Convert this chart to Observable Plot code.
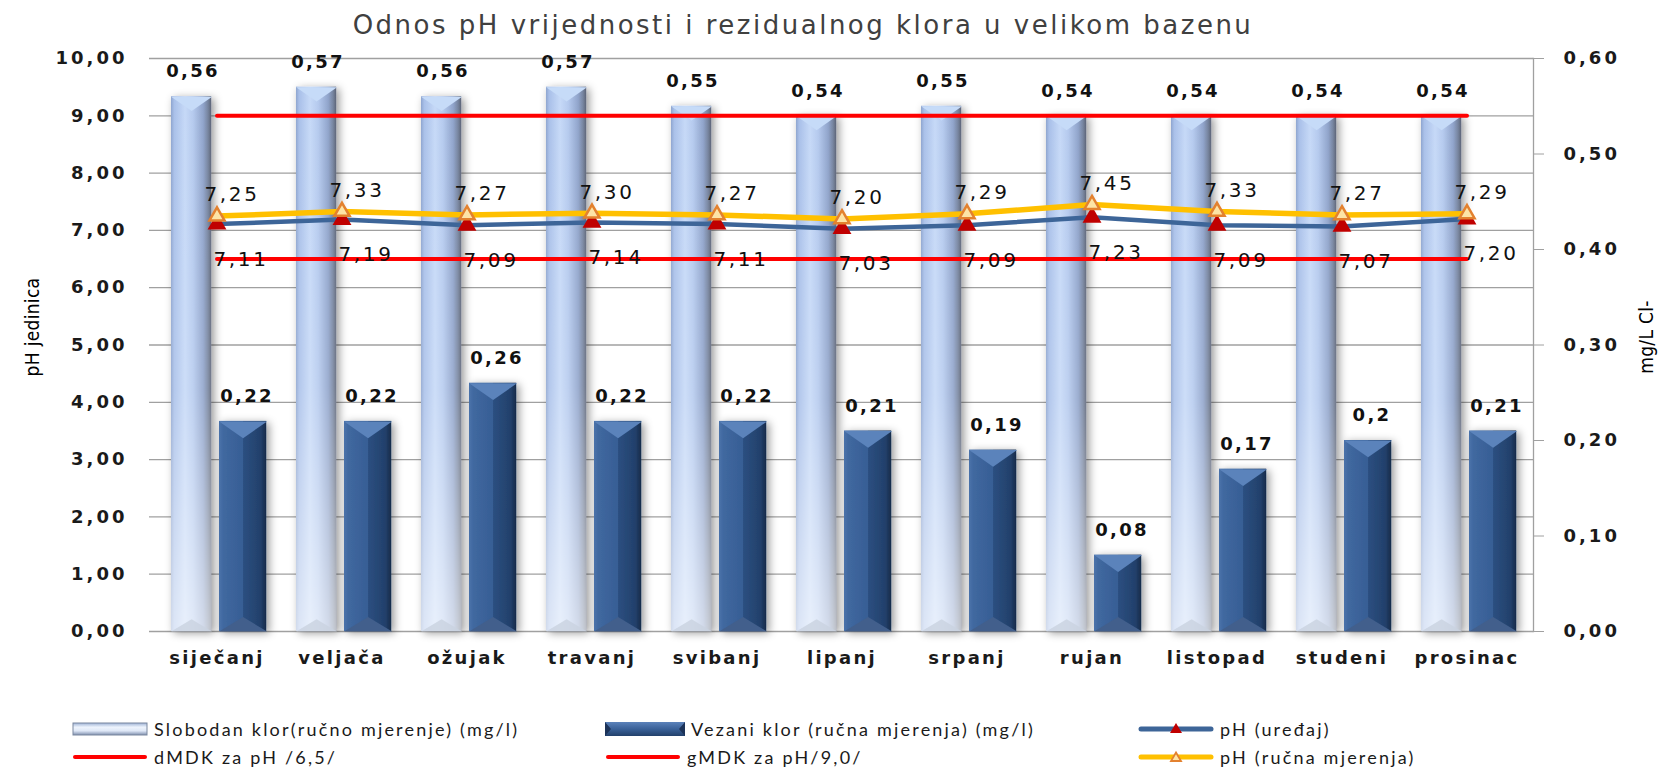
<!DOCTYPE html>
<html>
<head>
<meta charset="utf-8">
<script src="https://cdn.jsdelivr.net/npm/d3@7"></script>
<script src="https://cdn.jsdelivr.net/npm/@observablehq/plot@0.6"></script>
<style>
  html, body { margin: 0; padding: 0; background: #fff; }
  body { width: 1664px; height: 767px; position: relative; overflow: hidden; }
  #title { position: absolute; left: 0; top: 2px; width: 1606px; height: 46px; line-height: 46px;
           text-align: center; font-family: "DejaVu Sans", sans-serif; font-size: 26px;
           letter-spacing: 2.5px; color: #404040; white-space: nowrap; }
  #chart { position: absolute; left: 0; top: 40px; }
  #chart svg text { letter-spacing: 2.3px; }
  .lg { position: absolute; height: 24px; display: flex; align-items: center; white-space: nowrap;
        font-family: "Lato", sans-serif; font-size: 18px; letter-spacing: 2.2px; color: #1a1a1a; }
  .lg svg { margin-right: 6px; flex: none; }
</style>
</head>
<body>
<div id="title">Odnos pH vrijednosti i rezidualnog klora u velikom bazenu</div>
<div id="chart"></div>
<div id="legend"></div>
<script>
// ---------- data ----------
const months = ["siječanj", "veljača", "ožujak", "travanj", "svibanj", "lipanj", "srpanj", "rujan", "listopad", "studeni", "prosinac"];
const slobodanKlor = [0.56, 0.57, 0.56, 0.57, 0.55, 0.54, 0.55, 0.54, 0.54, 0.54, 0.54];
const vezaniKlor   = [0.22, 0.22, 0.26, 0.22, 0.22, 0.21, 0.19, 0.08, 0.17, 0.2, 0.21];
const phUredaj     = [7.11, 7.19, 7.09, 7.14, 7.11, 7.03, 7.09, 7.23, 7.09, 7.07, 7.20];
const phRucna      = [7.25, 7.33, 7.27, 7.30, 7.27, 7.20, 7.29, 7.45, 7.33, 7.27, 7.29];
const dMDK         = [6.5, 6.5, 6.5, 6.5, 6.5, 6.5, 6.5, 6.5, 6.5, 6.5, 6.5];
const gMDK         = [9.0, 9.0, 9.0, 9.0, 9.0, 9.0, 9.0, 9.0, 9.0, 9.0, 9.0];
const phTicks      = [0, 1, 2, 3, 4, 5, 6, 7, 8, 9, 10];
const klorTicks    = [0, 0.1, 0.2, 0.3, 0.4, 0.5, 0.6];
const PH_MAX = 10, KLOR_MAX = 0.6;
const titleLeft = "pH jedinica";
const titleRight = "mg/L Cl-";
const legendLabels = {
  slobodan: "Slobodan klor(ručno mjerenje) (mg/l)",
  vezani: "Vezani klor (ručna mjerenja)  (mg/l)",
  uredaj: "pH (uređaj)",
  dmdk: "dMDK za pH  /6,5/",
  gmdk: "gMDK za pH/9,0/",
  rucna: "pH (ručna mjerenja)"
};

// ---------- helpers ----------
const rows = months.map((m, i) => ({
  month: m, slobodan: slobodanKlor[i], vezani: vezaniKlor[i],
  uredaj: phUredaj[i], rucna: phRucna[i], dmdk: dMDK[i], gmdk: gMDK[i]
}));
const toPh = v => v * PH_MAX / KLOR_MAX;          // right axis (mg/l) -> left axis (pH)
const comma = v => String(v).replace(".", ",");
const fix2 = v => v.toFixed(2).replace(".", ",");

const topBevel = { draw(ctx, size) { const w = Math.sqrt(size / Math.PI);
  ctx.moveTo(-w, 0); ctx.lineTo(w, 0); ctx.lineTo(0, w * 0.7); ctx.closePath(); } };
const bottomBevel = { draw(ctx, size) { const w = Math.sqrt(size / Math.PI);
  ctx.moveTo(-w, 0); ctx.lineTo(w, 0); ctx.lineTo(0, -w * 0.6); ctx.closePath(); } };

const LIGHT = {insetLeft: 17, insetRight: 67.8, dx: -25.4, r: 20.5};
const DARK  = {insetLeft: 65, insetRight: 12.8, dx: 26.1, r: 24};
const narrow = "'DejaVu Sans Condensed', 'Liberation Sans Narrow', 'Liberation Sans', sans-serif";

const chart = Plot.plot({
  width: 1664, height: 660,
  marginTop: 18, marginBottom: 69, marginLeft: 149, marginRight: 131,
  style: {fontFamily: "'DejaVu Sans', sans-serif", background: "transparent", color: "#1a1a1a", overflow: "visible"},
  x: {type: "band", domain: months, padding: 0},
  y: {domain: [0, PH_MAX]},
  marks: [
    Plot.gridY(phTicks, {stroke: "#a0a0a0", strokeOpacity: 1, strokeWidth: 1.3}),
    Plot.frame({anchor: "right", stroke: "#a0a0a0", strokeWidth: 1.3}),
    // bars
    Plot.barY(rows, {x: "month", y: d => toPh(d.slobodan), fill: "url(#gLight)", insetLeft: LIGHT.insetLeft, insetRight: LIGHT.insetRight}),
    Plot.barY(rows, {x: "month", y: d => toPh(d.slobodan), fill: "url(#gLightV)", insetLeft: LIGHT.insetLeft, insetRight: LIGHT.insetRight}),
    Plot.barY(rows, {x: "month", y: d => toPh(d.vezani), fill: "url(#gDark)", insetLeft: DARK.insetLeft, insetRight: DARK.insetRight}),
    // bevels
    Plot.dot(rows, {x: "month", y: d => toPh(d.slobodan), symbol: topBevel, r: LIGHT.r, dx: LIGHT.dx, fill: "#c6dbf8", stroke: "none"}),
    Plot.dot(rows, {x: "month", y: 0, symbol: bottomBevel, r: LIGHT.r, dx: LIGHT.dx, fill: "#c9d2e0", fillOpacity: 0.8, stroke: "none"}),
    Plot.dot(rows, {x: "month", y: d => toPh(d.vezani), symbol: topBevel, r: DARK.r, dx: DARK.dx, fill: "#5b83bb", stroke: "none"}),
    Plot.dot(rows, {x: "month", y: 0, symbol: bottomBevel, r: DARK.r, dx: DARK.dx, fill: "#425f8c", stroke: "none"}),
    // axes
    Plot.axisY(phTicks, {anchor: "left", tickSize: 0, tickPadding: 22, tickFormat: fix2, fontSize: 18, fontWeight: "bold", label: null}),
    Plot.axisY(klorTicks.map(toPh), {anchor: "right", tickSize: 10, tickPadding: 20, stroke: "#a0a0a0", tickFormat: d => fix2(d * KLOR_MAX / PH_MAX), fontSize: 18, fontWeight: "bold", label: null}),
    Plot.axisX({tickSize: 0, tickPadding: 20, fontSize: 18, fontWeight: "bold", label: null}),
    // limit lines
    Plot.line(rows, {x: "month", y: "gmdk", stroke: "#ff0000", strokeWidth: 4}),
    Plot.line(rows, {x: "month", y: "dmdk", stroke: "#ff0000", strokeWidth: 4}),
    // pH lines
    Plot.line(rows, {x: "month", y: "uredaj", stroke: "#3d6598", strokeWidth: 4.5}),
    Plot.dot(rows, {x: "month", y: "uredaj", symbol: "triangle", r: 7, fill: "#c00000", stroke: "none"}),
    Plot.line(rows, {x: "month", y: "rucna", stroke: "#ffc000", strokeWidth: 5.5}),
    Plot.dot(rows, {x: "month", y: "rucna", symbol: "triangle", r: 5.6, fill: "#fde4a6", stroke: "#e3812f", strokeWidth: 2.5}),
    // value labels
    Plot.text(rows, {x: "month", y: "rucna", text: d => fix2(d.rucna), dx: 15, dy: -21, fontSize: 20, fill: "#111"}),
    Plot.text(rows, {x: "month", y: "uredaj", text: d => fix2(d.uredaj), dx: 24, dy: 35, fontSize: 20, fill: "#111"}),
    Plot.text(rows, {x: "month", y: d => toPh(d.slobodan), text: d => comma(d.slobodan), dx: -24, dy: -25, fontSize: 18, fontWeight: "bold", fill: "#111"}),
    Plot.text(rows, {x: "month", y: d => toPh(d.vezani), text: d => comma(d.vezani), dx: 30, dy: -25, fontSize: 18, fontWeight: "bold", fill: "#111"}),
    // axis titles
    Plot.text([titleLeft], {text: d => d, frameAnchor: "left", textAnchor: "middle", dx: -117, dy: -18, rotate: -90, fontSize: 19, fontFamily: narrow, fill: "#000"}),
    Plot.text([titleRight], {text: d => d, frameAnchor: "right", textAnchor: "middle", dx: 113, dy: -8, rotate: -90, fontSize: 19, fontFamily: narrow, fill: "#000"})
  ]
});

// gradients + shadow
const defs = d3.select(chart).insert("defs", ":first-child");
function grad(id, stops, vertical) {
  const g = defs.append("linearGradient").attr("id", id)
    .attr("x1", 0).attr("y1", 0).attr("x2", vertical ? 0 : 1).attr("y2", vertical ? 1 : 0);
  stops.forEach(([o, c, op = 1]) => g.append("stop").attr("offset", o).attr("stop-color", c).attr("stop-opacity", op));
}
grad("gLight", [[0, "#8ea5cf"], [0.08, "#a9c0e9"], [0.35, "#c6d9f7"], [0.55, "#b5caee"], [0.8, "#90a4cb"], [0.92, "#76849f"], [1, "#5c6476"]]);
grad("gLightV", [[0, "#ffffff", 0], [0.55, "#ffffff", 0.12], [1, "#ffffff", 0.6]], true);
grad("gDark", [[0, "#4b72aa"], [0.1, "#40689f"], [0.5, "#375e95"], [0.52, "#2c4f80"], [0.88, "#22406b"], [1, "#172a49"]]);
const f = defs.append("filter").attr("id", "shadow").attr("x", "-40%").attr("y", "-5%").attr("width", "180%").attr("height", "110%");
f.append("feDropShadow").attr("dx", 3).attr("dy", 2).attr("stdDeviation", 4.5).attr("flood-color", "#000").attr("flood-opacity", 0.4);
const barGroups = d3.select(chart).selectAll("g[aria-label='bar']").nodes();
d3.select(barGroups[0]).attr("filter", "url(#shadow)");
d3.select(barGroups[2]).attr("filter", "url(#shadow)");
d3.select(chart).selectAll("g[aria-label='y-axis tick label'] text").style("letter-spacing", "3px");
const textGroups = d3.select(chart).selectAll("g[aria-label='text']").nodes();
textGroups.slice(-2).forEach(g => d3.select(g).selectAll("text").style("letter-spacing", "0.3px"));
textGroups.slice(0, 2).forEach(g => d3.select(g).selectAll("text").style("letter-spacing", "2.6px"));
document.getElementById("chart").appendChild(chart);

// ---------- legend (HTML) ----------
const legend = document.getElementById("legend");
function swatch(kind) {
  const w = kind === "vezani" ? 80 : 76, h = 18;
  let s = `<svg width="${w}" height="${h}" viewBox="0 0 ${w} ${h}">`;
  if (kind === "slobodan") {
    s += `<defs><linearGradient id="lgL" x1="0" y1="0" x2="0" y2="1"><stop offset="0" stop-color="#9fb3d6"/><stop offset="0.35" stop-color="#eef4fd"/><stop offset="0.65" stop-color="#dfe8f7"/><stop offset="1" stop-color="#7f8fae"/></linearGradient></defs>`;
    s += `<rect x="1" y="3" width="${w - 2}" height="12" fill="url(#lgL)" stroke="#7a889f" stroke-width="1"/>`;
  } else if (kind === "vezani") {
    s += `<defs><linearGradient id="lgD" x1="0" y1="0" x2="0" y2="1"><stop offset="0" stop-color="#5b82ba"/><stop offset="0.5" stop-color="#3a6198"/><stop offset="1" stop-color="#22406b"/></linearGradient></defs>`;
    s += `<rect x="0" y="2" width="${w}" height="14" fill="url(#lgD)"/><path d="M0,2 L6,9 L0,16Z M${w},2 L${w - 6},9 L${w},16Z" fill="#1c3358"/>`;
  } else if (kind === "uredaj") {
    s += `<line x1="3" x2="${w - 3}" y1="9" y2="9" stroke="#3d6598" stroke-width="5" stroke-linecap="round"/>`;
    s += `<path d="M${w / 2},3 L${w / 2 + 6},13 L${w / 2 - 6},13Z" fill="#c00000"/>`;
  } else if (kind === "rucna") {
    s += `<line x1="3" x2="${w - 3}" y1="9" y2="9" stroke="#ffc000" stroke-width="5" stroke-linecap="round"/>`;
    s += `<path d="M${w / 2},4.5 L${w / 2 + 5},13 L${w / 2 - 5},13Z" fill="#fde4a6" stroke="#e3812f" stroke-width="1.8"/>`;
  } else {
    s += `<line x1="3" x2="${w - 3}" y1="9" y2="9" stroke="#ff0000" stroke-width="4" stroke-linecap="round"/>`;
  }
  return s + "</svg>";
}
const items = [
  ["slobodan", 72, 717], ["vezani", 605, 717], ["uredaj", 1138, 717],
  ["dmdk", 72, 745], ["gmdk", 605, 745], ["rucna", 1138, 745]
];
items.forEach(([k, x, y]) => {
  const d = document.createElement("div");
  d.className = "lg";
  d.style.left = x + "px"; d.style.top = y + "px";
  d.innerHTML = swatch(k) + `<span>${legendLabels[k]}</span>`;
  legend.appendChild(d);
});
</script>
</body>
</html>
